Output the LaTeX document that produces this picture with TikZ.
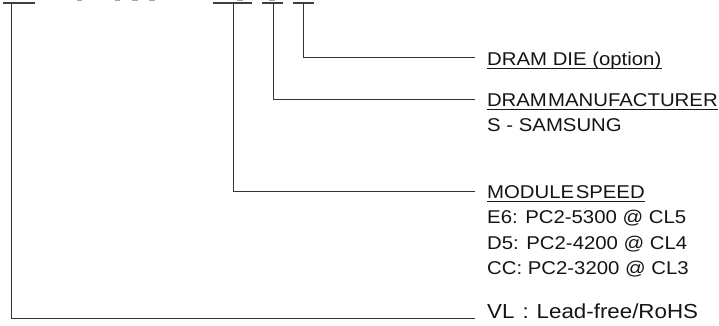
\documentclass[tikz,border=0pt]{standalone}
\usepackage{fontspec}
\setmainfont{Liberation Sans}[FakeStretch=1.1]
\begin{document}
\begin{tikzpicture}[x=1pt,y=-1pt,
  conn/.style={draw=black!80,line width=0.9pt},
  bar/.style={draw=black!75,line width=1.6pt},
  lbl/.style={anchor=base west,inner sep=0pt,text=black!92,font=\fontsize{18.5}{24}\selectfont},
  frag/.style={draw=black!35,line width=1.2pt}]
\useasboundingbox (0,0) rectangle (719,325);
% top bars
\draw[bar] (3,3) -- (35,3);
\draw[bar] (213,3) -- (252,3);
\draw[bar] (262,3) -- (283,3);
\draw[bar] (293,3) -- (314,3);
% cropped glyph fragments at top edge
\draw[frag] (77,0.4) -- (82,0.4);
\draw[frag] (115,0.4) -- (120,0.4);
\draw[frag] (132,0.4) -- (138,0.4);
\draw[frag] (149,0.4) -- (155,0.4);
\draw[frag] (237,0.4) -- (243,0.4);
\draw[frag] (269,0.4) -- (275,0.4);
% bar anchors
\coordinate (b1) at (11,3);
\coordinate (b2) at (233,3);
\coordinate (b3) at (273,3);
\coordinate (b4) at (303,3);
% labels
\node[lbl] (die) at (487,65.5) {DRAM DIE (option)};
\node[lbl] (man) at (487,106) {\kern-0.2pt DRAM\hspace{1.2pt}MANUFACTURER};
\node[lbl] (sam) at (487,131.5) {S - SAMSUNG};
\node[lbl] (spd) at (487,198) {MODULE\hspace{1.5pt}SPEED};
\node[lbl] (e6) at (487,223.5) {E6: PC2-5300 @ CL5};
\node[lbl] (d5) at (487,249) {D5: PC2-4200 @ CL4};
\node[lbl] (cc) at (487,274.5) {CC: PC2-3200 @ CL3};
\node[lbl,font=\fontsize{20.3}{24}\selectfont] (vl) at (487,318) {VL\hspace{8pt}:\hspace{8pt}Lead-free/RoHS};
% underlines
\foreach \n in {die,man,spd}
  \draw[black!90,line width=0.9pt] ([yshift=-3.4pt]\n.base west) -- ([yshift=-3.4pt]\n.base east);
% connectors
\coordinate (e4) at (475,57);
\coordinate (e3) at (475,99);
\coordinate (e2) at (475,191);
\coordinate (e1) at (475,318);
\draw[conn] (b4) |- (e4);
\draw[conn] (b3) |- (e3);
\draw[conn] (b2) |- (e2);
\draw[conn] (b1) |- (e1);
\end{tikzpicture}
\end{document}
